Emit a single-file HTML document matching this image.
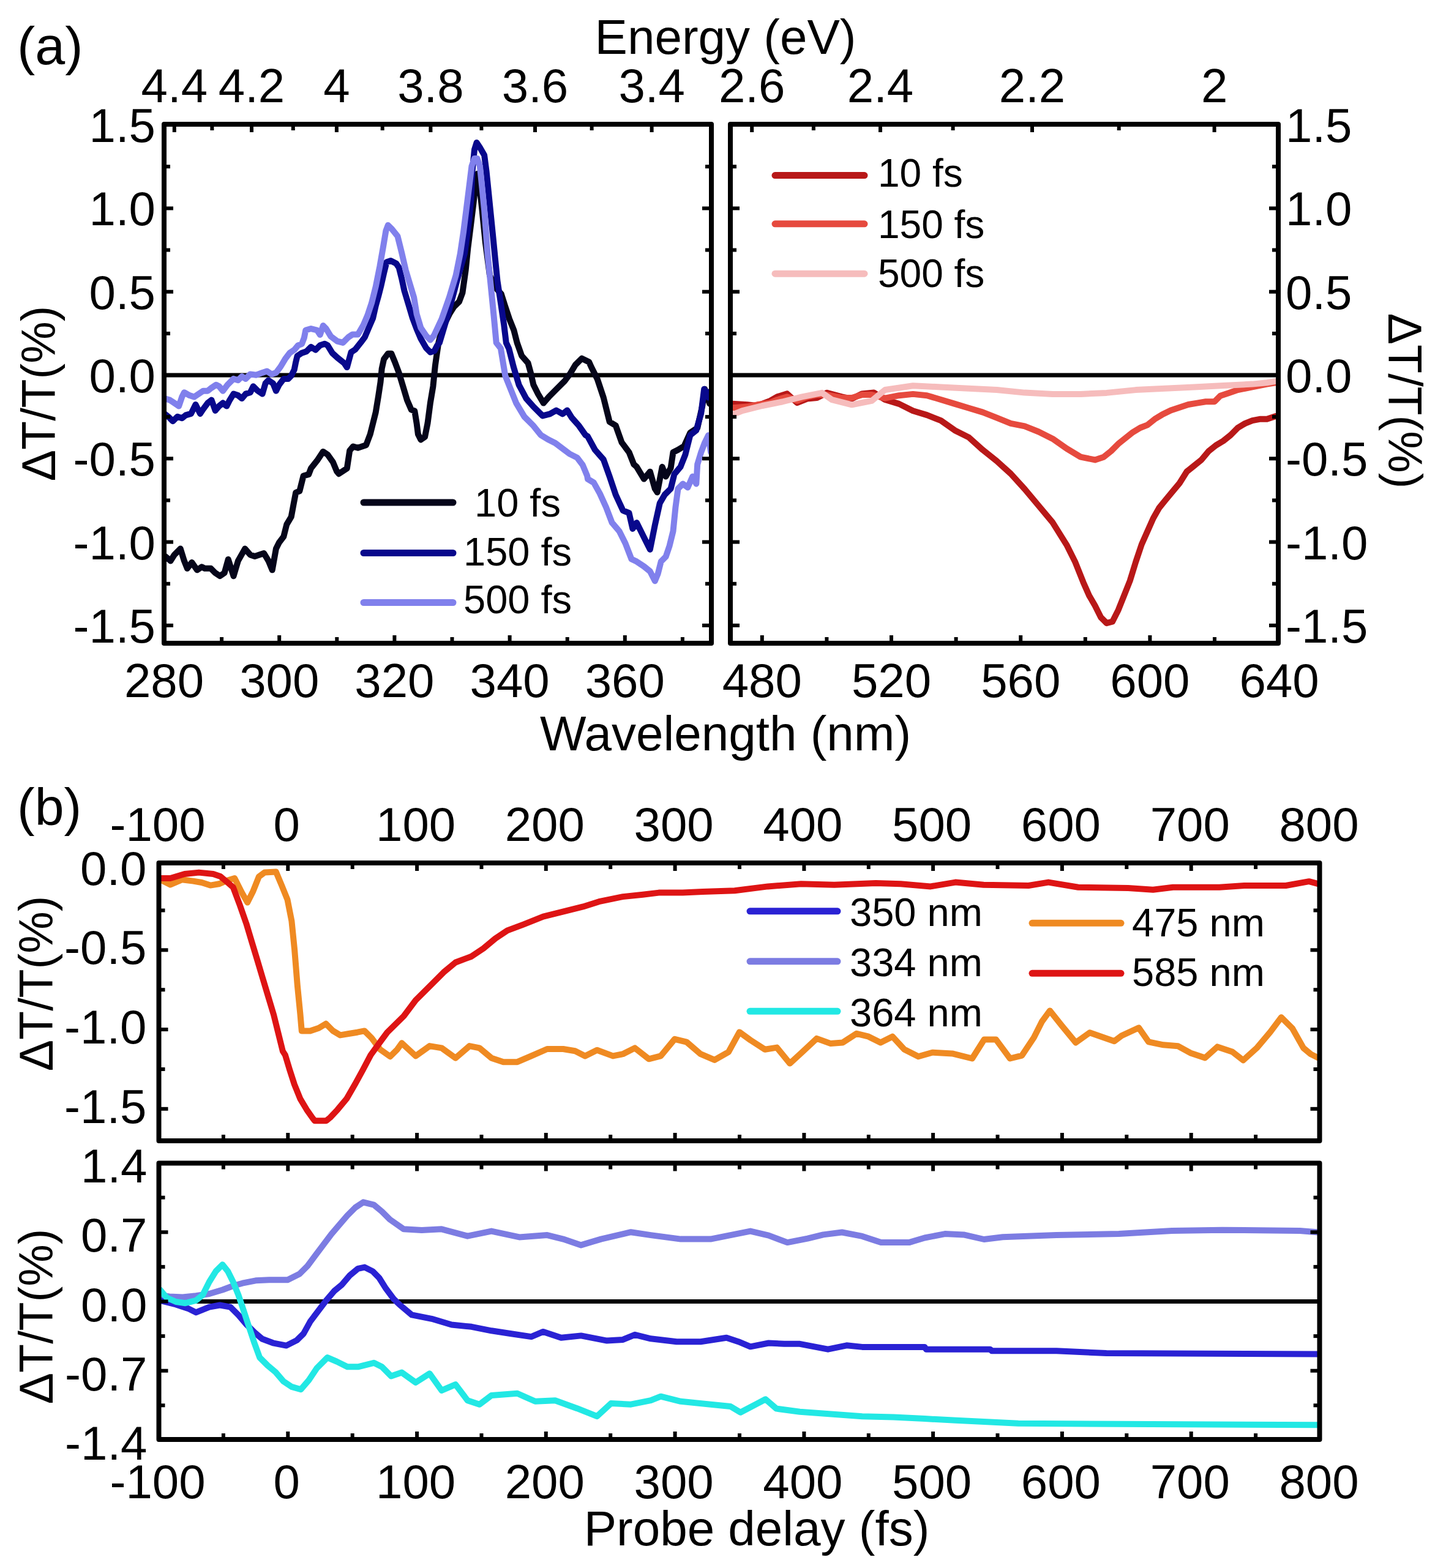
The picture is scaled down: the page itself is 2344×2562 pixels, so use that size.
<!DOCTYPE html>
<html><head><meta charset="utf-8"><title>Transient transmission spectra</title>
<style>html,body{margin:0;padding:0;background:#fff;}svg{display:block;}</style>
</head><body>
<svg width="2344" height="2562" viewBox="0 0 2344 2562" font-family='"Liberation Sans", Arial, Helvetica, sans-serif'>
<rect width="2344" height="2562" fill="#fff"/>
<defs>
<clipPath id="cAL"><rect x="268" y="203" width="894" height="848"/></clipPath>
<clipPath id="cAR"><rect x="1193" y="203" width="895" height="848"/></clipPath>
<clipPath id="cBT"><rect x="259.5" y="1410" width="1896.0" height="454"/></clipPath>
<clipPath id="cBB"><rect x="259.5" y="1900.5" width="1896.0" height="451.5"/></clipPath>
</defs>
<g stroke="#000" stroke-width="7">
<line x1="268" y1="613.0" x2="1162" y2="613.0"/>
<line x1="1193" y1="613.0" x2="2088" y2="613.0"/>
<line x1="259.5" y1="2126.5" x2="2155.5" y2="2126.5"/>
</g>
<g clip-path="url(#cAL)">
<polyline points="269.9,909.0 278.6,916.4 284.8,906.5 294.7,896.6 300.9,916.4 305.9,928.8 313.3,918.9 322.0,931.3 329.4,926.3 334.4,928.8 344.3,928.8 351.7,936.2 359.2,941.2 366.6,936.2 372.8,913.9 381.5,941.2 388.9,916.4 400.1,896.6 408.8,906.5 416.2,909.0 423.6,906.5 431.1,904.0 438.5,916.4 444.7,931.3 450.9,896.6 455.9,886.6 463.3,876.7 468.3,856.9 475.7,844.5 479.4,824.7 483.2,804.8 489.4,802.3 495.6,777.5 504.2,775.1 508.0,765.1 517.9,752.7 527.8,737.9 535.2,742.8 543.9,755.2 550.1,770.1 553.4,774.2 566.8,765.3 571.2,736.2 576.8,729.6 584.6,731.8 598.0,727.3 604.7,709.5 609.2,691.6 613.7,673.8 618.1,647.0 621.5,624.6 623.7,602.3 627.1,586.7 633.8,577.8 639.3,577.8 644.9,591.2 651.6,609.0 658.3,631.3 665.0,653.7 671.7,669.3 677.3,671.5 680.6,691.6 682.9,709.5 687.3,718.4 694.0,713.9 698.5,691.6 702.9,658.1 707.4,631.3 710.8,597.9 713.0,582.2 716.3,559.9 720.8,542.1 727.5,526.4 734.2,513.0 741.1,501.8 750.0,492.9 755.4,478.6 760.7,441.1 764.3,405.4 768.8,369.6 773.2,333.9 776.8,301.8 779.5,283.9 782.1,292.9 787.5,342.9 792.9,396.4 800.0,450.0 810.7,471.4 818.8,480.4 825.0,500.0 832.1,521.4 839.3,539.3 844.6,560.0 852.1,581.2 862.5,593.1 867.0,609.5 871.4,628.8 878.9,643.7 887.8,658.6 896.7,648.2 908.6,636.2 922.0,622.9 931.0,611.0 939.9,596.1 950.3,585.7 962.2,591.6 966.0,600.0 975.9,619.8 985.8,649.6 995.7,689.3 1005.7,695.3 1015.6,723.1 1027.5,738.9 1035.4,758.8 1040.0,762.8 1051.9,782.6 1061.8,770.7 1069.8,798.5 1073.7,804.4 1081.7,762.8 1087.6,778.6 1095.6,764.7 1099.5,738.9 1107.5,735.0 1117.4,729.0 1127.3,707.2 1139.2,699.2 1147.2,663.5 1151.2,635.7 1159.1,659.5" fill="none" stroke="#05051a" stroke-width="10" stroke-linejoin="round" stroke-linecap="round"/>
<polyline points="268.7,675.9 274.9,680.8 282.3,688.3 289.8,680.8 297.2,683.3 303.4,678.4 312.1,675.9 319.5,661.0 326.9,675.9 331.9,668.4 339.3,658.5 345.5,653.6 351.7,670.9 357.9,663.5 364.1,658.5 370.3,663.5 375.3,653.6 381.5,643.6 388.9,646.1 395.1,651.1 401.3,643.6 408.8,641.2 413.7,631.3 421.2,638.7 428.6,643.6 433.6,626.3 438.5,621.3 446.0,626.3 450.9,638.7 455.9,628.8 463.3,618.9 470.8,618.9 475.7,613.9 480.7,604.0 483.2,591.6 485.6,581.7 493.1,576.7 500.5,574.2 508.0,566.8 515.4,571.7 522.8,564.3 530.3,561.8 535.2,564.3 542.7,576.7 551.2,584.5 562.3,593.4 566.8,600.1 573.5,575.5 580.2,571.1 589.1,559.9 595.8,551.0 602.5,535.4 609.2,519.7 613.7,499.6 618.1,484.0 622.6,466.2 627.1,446.1 631.5,428.2 638.2,426.0 647.1,430.4 651.6,437.1 656.1,455.0 660.5,475.1 667.2,497.4 673.9,519.7 680.6,537.6 687.3,553.2 696.2,568.8 702.9,575.5 709.6,573.3 714.1,564.4 717.9,560.0 732.1,512.5 746.4,458.9 758.9,414.3 766.1,360.7 769.6,325.0 771.4,280.4 775.0,244.6 778.6,233.0 783.9,241.1 791.1,253.6 794.6,280.4 798.2,316.1 801.8,351.8 805.4,387.5 808.9,423.2 812.5,458.9 817.9,494.6 823.2,530.4 826.8,560.0 831.2,569.3 838.7,599.0 847.6,628.8 859.5,651.1 871.4,664.5 886.3,679.4 898.2,676.4 908.6,670.5 919.0,676.4 926.5,670.5 933.9,682.4 945.8,695.8 956.2,710.7 960.0,713.1 971.9,735.0 985.8,750.9 995.7,778.6 1005.7,808.4 1017.6,834.2 1027.5,838.2 1033.4,864.0 1040.0,854.1 1051.9,877.9 1061.8,897.7 1069.8,858.0 1077.7,822.3 1085.7,808.4 1095.6,798.5 1101.5,774.7 1111.5,762.8 1119.4,742.9 1127.3,711.2 1137.3,703.2 1145.2,675.4 1150.2,635.7 1157.1,649.6 1160.1,639.7" fill="none" stroke="#08088c" stroke-width="10" stroke-linejoin="round" stroke-linecap="round"/>
<polyline points="268.7,651.1 277.4,653.6 284.8,658.5 292.2,663.5 297.2,648.6 300.9,641.2 309.6,646.1 317.0,648.6 324.5,643.6 331.9,638.7 339.3,638.7 345.5,633.7 353.0,628.8 357.9,631.3 364.1,638.7 371.6,628.8 381.5,618.9 388.9,621.3 395.1,615.1 401.3,618.9 408.8,611.4 418.7,612.7 428.6,608.9 436.0,606.5 443.5,611.4 450.9,608.9 458.4,599.0 465.8,586.6 473.2,576.7 480.7,571.7 486.9,564.3 493.1,561.8 496.8,551.9 499.3,539.5 508.0,537.0 517.9,539.5 522.8,546.9 527.8,532.1 532.7,537.0 540.2,549.4 551.2,557.7 560.1,559.9 569.0,551.0 575.7,546.5 584.6,546.5 593.6,530.9 600.3,515.3 607.0,495.2 613.7,468.4 620.4,434.9 625.9,403.7 630.4,376.9 633.8,367.9 640.4,374.6 649.4,385.8 656.1,412.6 662.8,441.6 669.5,463.9 676.2,486.2 680.6,513.0 687.3,535.4 696.2,548.8 702.9,555.4 708.9,548.2 721.4,521.4 733.9,485.7 744.6,450.0 751.8,414.3 757.1,378.6 761.6,342.9 766.1,307.1 770.5,271.4 775.0,258.9 779.5,258.9 783.9,271.4 787.5,307.1 791.1,342.9 793.8,378.6 796.4,414.3 800.0,450.0 803.6,485.7 807.1,521.4 810.7,560.0 817.9,569.3 825.3,613.9 834.2,636.2 843.2,658.6 856.5,680.9 871.4,695.8 883.3,710.7 895.2,718.1 907.1,724.0 919.0,733.0 931.0,741.9 942.9,747.9 951.8,759.8 959.2,777.6 960.0,782.6 969.9,788.6 979.8,806.4 989.8,828.3 999.7,854.1 1011.6,868.0 1021.5,887.8 1031.5,913.6 1040.0,917.6 1051.9,925.5 1061.8,933.5 1069.8,949.3 1074.7,937.4 1079.7,917.6 1087.6,909.6 1093.6,891.8 1099.5,868.0 1103.5,828.3 1107.5,798.5 1115.4,790.6 1123.4,796.5 1131.3,778.6 1137.3,790.6 1139.2,758.8 1145.2,738.9 1151.2,723.1 1157.1,711.2 1161.1,738.9" fill="none" stroke="#8080ec" stroke-width="10" stroke-linejoin="round" stroke-linecap="round"/>
</g>
<g clip-path="url(#cAR)">
<polyline points="1196.3,659.7 1220.7,661.3 1236.9,663.0 1258.1,654.8 1269.5,648.3 1285.7,643.4 1302.0,658.1 1318.3,651.6 1334.5,650.0 1350.8,641.8 1375.2,648.3 1391.5,651.6 1407.8,643.4 1427.4,641.6 1445.6,653.0 1468.5,659.9 1491.3,671.3 1514.1,678.1 1536.9,687.2 1559.7,703.2 1582.5,714.6 1605.4,735.2 1628.2,753.4 1651.0,774.0 1673.8,799.1 1696.6,826.4 1719.5,853.8 1742.3,890.3 1756.0,917.7 1769.5,951.4 1779.0,972.9 1788.6,989.5 1798.1,1008.6 1807.6,1018.1 1817.1,1015.7 1826.7,996.7 1836.2,972.9 1845.7,949.0 1855.2,918.1 1864.8,889.5 1874.3,868.1 1883.8,846.7 1893.3,830.0 1902.9,818.1 1914.8,803.8 1926.7,789.5 1938.6,770.5 1950.5,761.0 1962.4,751.4 1974.3,737.1 1986.2,727.6 1998.1,720.5 2010.0,711.0 2021.9,699.0 2033.8,691.9 2045.7,687.1 2057.6,684.8 2069.5,684.8 2083.8,680.0" fill="none" stroke="#b81818" stroke-width="10" stroke-linejoin="round" stroke-linecap="round"/>
<polyline points="1196.3,666.2 1220.7,664.6 1236.9,661.3 1258.1,658.1 1269.5,653.2 1285.7,648.3 1302.0,654.8 1318.3,648.3 1334.5,645.1 1350.8,645.1 1375.2,650.0 1391.5,650.0 1407.8,645.1 1424.0,645.1 1445.6,650.7 1468.5,646.2 1491.3,643.9 1514.1,646.2 1536.9,653.0 1559.7,659.9 1582.5,666.7 1605.4,673.6 1628.2,682.7 1651.0,691.8 1673.8,696.4 1696.6,705.5 1719.5,716.9 1742.3,732.9 1765.1,746.6 1788.6,751.4 1802.9,746.7 1814.8,737.1 1826.7,725.2 1838.6,715.7 1850.5,706.2 1862.4,699.0 1874.3,694.3 1886.2,684.8 1898.1,677.6 1912.4,670.5 1926.7,665.7 1941.0,661.0 1955.2,658.6 1969.5,656.2 1983.8,656.2 1993.3,646.7 2007.6,641.9 2021.9,637.1 2045.7,632.4 2069.5,627.6 2083.8,625.2" fill="none" stroke="#e64a3e" stroke-width="10" stroke-linejoin="round" stroke-linecap="round"/>
<polyline points="1196.3,677.6 1212.5,671.1 1245.1,663.0 1277.6,656.5 1310.1,648.3 1342.7,641.8 1358.9,653.2 1391.5,661.3 1424.0,654.8 1445.6,637.0 1491.3,630.2 1536.9,632.5 1582.5,634.8 1628.2,637.0 1673.8,641.6 1719.5,643.9 1765.1,643.9 1807.6,641.9 1855.2,637.1 1902.9,634.8 1950.5,632.4 1998.1,630.0 2045.7,627.6 2069.5,625.2 2083.8,622.9" fill="none" stroke="#f6bcbc" stroke-width="10" stroke-linejoin="round" stroke-linecap="round"/>
</g>
<g clip-path="url(#cBT)">
<polyline points="262.0,1437.3 278.3,1445.5 297.0,1437.3 315.6,1439.6 329.6,1442.0 343.6,1446.6 357.6,1444.3 371.6,1438.5 383.2,1435.0 394.9,1458.3 404.2,1474.6 413.5,1455.9 422.8,1432.6 432.2,1425.6 450.8,1424.5 460.1,1446.6 469.5,1469.9 476.4,1504.9 481.1,1551.5 485.8,1609.8 490.4,1656.4 492.8,1684.4 506.7,1684.4 520.7,1679.7 532.4,1672.7 544.0,1684.4 555.7,1691.4 569.7,1689.0 583.7,1686.7 595.3,1684.4 607.0,1696.0 621.0,1714.7 637.3,1726.3 648.9,1714.7 656.3,1704.3 679.0,1725.4 701.8,1709.1 721.4,1712.4 744.1,1728.7 766.9,1709.1 783.2,1712.4 802.7,1728.7 822.2,1735.2 845.0,1735.2 867.8,1725.4 893.8,1714.0 919.9,1714.0 939.4,1717.3 955.7,1725.4 975.2,1715.7 1001.2,1725.4 1017.5,1722.2 1037.0,1712.4 1059.8,1730.3 1079.3,1725.4 1102.1,1697.8 1121.6,1702.6 1144.4,1722.2 1167.2,1731.9 1190.0,1718.9 1207.8,1686.4 1225.7,1699.4 1249.5,1714.8 1269.0,1711.6 1290.2,1737.6 1311.4,1718.1 1334.1,1696.9 1356.9,1705.1 1376.4,1703.5 1399.2,1688.8 1418.7,1693.7 1438.3,1703.5 1457.8,1693.7 1477.3,1714.8 1500.1,1726.2 1522.9,1719.7 1555.4,1721.4 1588.0,1729.5 1607.5,1698.6 1627.0,1698.6 1649.8,1729.5 1669.3,1724.6 1688.8,1695.3 1701.9,1669.3 1714.9,1651.4 1734.4,1675.8 1757.2,1703.5 1780.0,1687.2 1800.0,1694.3 1820.1,1701.3 1832.1,1692.3 1860.2,1679.3 1876.2,1702.3 1900.3,1707.3 1924.4,1709.3 1944.5,1720.4 1968.5,1728.4 1988.6,1710.4 2012.7,1718.4 2030.7,1732.4 2052.8,1712.4 2074.9,1686.3 2092.9,1662.2 2111.0,1680.3 2129.1,1712.4 2141.1,1722.4 2153.1,1728.4" fill="none" stroke="#ef8a22" stroke-width="10" stroke-linejoin="round" stroke-linecap="round"/>
<polyline points="262.0,1435.0 278.3,1435.0 301.6,1428.0 324.9,1425.6 348.2,1428.0 360.0,1432.0 371.9,1442.0 380.8,1449.8 392.0,1479.5 402.4,1509.3 411.3,1539.0 420.3,1568.8 429.2,1598.6 438.1,1628.3 447.1,1658.1 454.5,1687.9 461.9,1717.6 465.9,1723.9 473.1,1747.7 480.8,1771.6 490.4,1795.4 501.1,1813.3 510.7,1827.0 514.0,1831.2 533.0,1831.2 539.3,1826.0 551.2,1813.3 566.1,1795.4 579.9,1771.6 593.0,1747.7 605.5,1723.9 622.8,1700.0 632.6,1686.7 659.5,1660.3 679.0,1634.3 705.1,1608.3 724.6,1588.7 744.1,1572.5 770.2,1562.7 789.7,1549.7 809.2,1533.4 828.7,1520.4 854.8,1510.6 887.3,1497.6 926.4,1487.9 952.4,1481.4 978.4,1473.2 1017.5,1465.1 1050.0,1461.8 1076.1,1458.6 1115.1,1458.6 1147.6,1456.9 1200.0,1455.2 1254.2,1448.4 1308.5,1444.3 1362.7,1445.7 1430.5,1443.0 1471.2,1444.3 1520.0,1448.4 1560.6,1441.6 1606.7,1445.7 1680.0,1447.0 1712.5,1441.6 1761.3,1449.7 1842.7,1451.1 1883.4,1453.8 1915.9,1449.7 1991.8,1449.7 2032.5,1447.0 2100.3,1447.0 2138.2,1440.2 2154.0,1444.3" fill="none" stroke="#de1414" stroke-width="10" stroke-linejoin="round" stroke-linecap="round"/>
</g>
<g clip-path="url(#cBB)">
<polyline points="261.5,2116.2 276.7,2118.4 298.4,2119.4 320.1,2117.3 341.8,2114.0 363.5,2107.5 380.8,2101.0 396.0,2096.7 417.7,2092.3 439.4,2091.2 469.8,2091.2 489.3,2081.5 502.3,2068.5 515.3,2051.1 528.3,2033.8 541.3,2016.4 554.3,2001.2 567.4,1986.0 580.4,1973.0 593.4,1964.3 610.7,1968.7 623.8,1979.5 636.8,1992.5 659.5,2008.3 688.8,2010.0 721.4,2008.3 763.7,2019.7 802.7,2011.6 848.3,2021.4 893.8,2018.1 919.9,2024.6 949.1,2034.4 981.7,2024.6 1030.5,2013.2 1063.0,2018.1 1111.9,2024.6 1160.7,2024.6 1193.2,2018.1 1225.7,2011.6 1255.5,2018.6 1286.1,2030.1 1319.2,2023.7 1344.7,2017.4 1375.3,2013.5 1408.4,2019.9 1439.0,2030.1 1484.9,2030.1 1510.4,2022.5 1543.5,2016.1 1574.1,2017.4 1607.3,2025.0 1637.9,2021.2 1725.7,2018.1 1827.6,2016.1 1914.3,2011.0 1995.9,2009.7 2123.3,2011.0 2153.9,2013.5" fill="none" stroke="#7c7ce2" stroke-width="10" stroke-linejoin="round" stroke-linecap="round"/>
<polyline points="261.5,2124.9 287.5,2131.4 307.1,2137.9 320.1,2144.4 341.8,2135.7 359.1,2132.5 376.5,2135.7 389.5,2148.7 402.5,2163.9 415.5,2176.9 428.5,2187.8 445.9,2194.3 467.6,2198.6 484.9,2189.9 495.8,2179.1 506.6,2159.6 519.6,2142.2 532.7,2124.9 545.7,2109.7 558.7,2098.8 571.7,2083.6 584.7,2072.8 595.6,2070.6 608.6,2077.1 619.4,2088.0 630.3,2105.3 643.3,2122.7 653.0,2132.0 672.5,2148.3 705.1,2154.8 737.6,2164.5 770.2,2167.8 802.7,2174.3 835.2,2179.2 867.8,2184.1 887.3,2175.9 916.6,2185.7 949.1,2182.4 991.4,2190.6 1017.5,2188.9 1037.0,2180.8 1063.0,2187.3 1105.3,2192.2 1144.4,2192.2 1186.7,2185.7 1206.2,2192.2 1225.7,2200.3 1255.5,2194.5 1281.0,2195.8 1306.5,2195.8 1352.4,2204.7 1382.9,2198.3 1408.4,2200.9 1510.4,2200.9 1512.9,2204.7 1617.5,2204.7 1620.0,2207.3 1725.7,2207.3 1807.3,2211.1 2153.9,2212.4" fill="none" stroke="#2a22d4" stroke-width="10" stroke-linejoin="round" stroke-linecap="round"/>
<polyline points="261.5,2107.5 272.4,2120.5 287.5,2127.0 302.7,2129.2 320.1,2124.9 330.9,2116.2 341.8,2094.5 352.6,2077.1 363.5,2066.3 372.1,2077.1 380.8,2094.5 389.5,2116.2 398.2,2142.2 406.8,2168.2 415.5,2194.3 424.2,2218.1 437.2,2231.1 450.2,2242.0 463.2,2257.2 476.3,2265.9 491.4,2270.2 504.5,2255.0 517.5,2235.5 534.8,2218.1 550.0,2224.6 567.4,2233.3 584.7,2233.3 610.7,2226.8 623.8,2233.3 638.9,2248.5 656.3,2242.6 679.0,2258.9 701.8,2244.3 721.4,2271.9 744.1,2262.2 763.7,2288.2 783.2,2294.7 802.7,2280.1 845.0,2276.8 874.3,2289.8 906.8,2288.2 942.6,2301.2 975.2,2314.2 998.0,2293.1 1030.5,2294.7 1063.0,2288.2 1079.3,2281.7 1111.9,2289.8 1160.7,2294.7 1193.2,2298.0 1209.5,2307.7 1250.4,2286.3 1268.2,2301.6 1306.5,2306.7 1357.5,2310.5 1408.4,2314.3 1459.4,2315.6 1510.4,2318.1 1561.4,2320.7 1612.4,2323.2 1663.3,2325.8 2153.9,2328.3" fill="none" stroke="#22e8e4" stroke-width="10" stroke-linejoin="round" stroke-linecap="round"/>
</g>
<g stroke="#000" stroke-width="8" fill="none">
<rect x="268" y="203" width="894" height="848" fill="none" stroke="#000" stroke-width="8" stroke-linejoin="round"/>
<rect x="1193" y="203" width="895" height="848" fill="none" stroke="#000" stroke-width="8" stroke-linejoin="round"/>
<rect x="259.5" y="1410" width="1896.0" height="454" fill="none" stroke="#000" stroke-width="8" stroke-linejoin="round"/>
<rect x="259.5" y="1900.5" width="1896.0" height="451.5" fill="none" stroke="#000" stroke-width="8" stroke-linejoin="round"/>
</g>
<g stroke="#000" stroke-width="6" stroke-linecap="butt">
<line x1="284.8" y1="203" x2="284.8" y2="216"/>
<line x1="411.0" y1="203" x2="411.0" y2="216"/>
<line x1="549.9" y1="203" x2="549.9" y2="216"/>
<line x1="703.4" y1="203" x2="703.4" y2="216"/>
<line x1="874.0" y1="203" x2="874.0" y2="216"/>
<line x1="1064.6" y1="203" x2="1064.6" y2="216"/>
<line x1="346.4" y1="203" x2="346.4" y2="213"/>
<line x1="478.8" y1="203" x2="478.8" y2="213"/>
<line x1="624.7" y1="203" x2="624.7" y2="213"/>
<line x1="786.4" y1="203" x2="786.4" y2="213"/>
<line x1="966.6" y1="203" x2="966.6" y2="213"/>
<line x1="456.2" y1="1051" x2="456.2" y2="1038"/>
<line x1="644.4" y1="1051" x2="644.4" y2="1038"/>
<line x1="832.6" y1="1051" x2="832.6" y2="1038"/>
<line x1="1020.8" y1="1051" x2="1020.8" y2="1038"/>
<line x1="362.1" y1="1051" x2="362.1" y2="1041"/>
<line x1="550.3" y1="1051" x2="550.3" y2="1041"/>
<line x1="738.5" y1="1051" x2="738.5" y2="1041"/>
<line x1="926.7" y1="1051" x2="926.7" y2="1041"/>
<line x1="1114.9" y1="1051" x2="1114.9" y2="1041"/>
<line x1="268" y1="340.4" x2="283" y2="340.4"/>
<line x1="1162" y1="340.4" x2="1147" y2="340.4"/>
<line x1="268" y1="476.7" x2="283" y2="476.7"/>
<line x1="1162" y1="476.7" x2="1147" y2="476.7"/>
<line x1="268" y1="613.0" x2="283" y2="613.0"/>
<line x1="1162" y1="613.0" x2="1147" y2="613.0"/>
<line x1="268" y1="749.3" x2="283" y2="749.3"/>
<line x1="1162" y1="749.3" x2="1147" y2="749.3"/>
<line x1="268" y1="885.6" x2="283" y2="885.6"/>
<line x1="1162" y1="885.6" x2="1147" y2="885.6"/>
<line x1="268" y1="1021.9" x2="283" y2="1021.9"/>
<line x1="1162" y1="1021.9" x2="1147" y2="1021.9"/>
<line x1="268" y1="272.2" x2="278" y2="272.2"/>
<line x1="1162" y1="272.2" x2="1152" y2="272.2"/>
<line x1="268" y1="408.5" x2="278" y2="408.5"/>
<line x1="1162" y1="408.5" x2="1152" y2="408.5"/>
<line x1="268" y1="544.9" x2="278" y2="544.9"/>
<line x1="1162" y1="544.9" x2="1152" y2="544.9"/>
<line x1="268" y1="681.1" x2="278" y2="681.1"/>
<line x1="1162" y1="681.1" x2="1152" y2="681.1"/>
<line x1="268" y1="817.5" x2="278" y2="817.5"/>
<line x1="1162" y1="817.5" x2="1152" y2="817.5"/>
<line x1="268" y1="953.8" x2="278" y2="953.8"/>
<line x1="1162" y1="953.8" x2="1152" y2="953.8"/>
<line x1="1228.2" y1="203" x2="1228.2" y2="216"/>
<line x1="1438.0" y1="203" x2="1438.0" y2="216"/>
<line x1="1686.0" y1="203" x2="1686.0" y2="216"/>
<line x1="1983.6" y1="203" x2="1983.6" y2="216"/>
<line x1="1328.9" y1="203" x2="1328.9" y2="213"/>
<line x1="1556.6" y1="203" x2="1556.6" y2="213"/>
<line x1="1827.7" y1="203" x2="1827.7" y2="213"/>
<line x1="1244.8" y1="1051" x2="1244.8" y2="1038"/>
<line x1="1456.0" y1="1051" x2="1456.0" y2="1038"/>
<line x1="1667.2" y1="1051" x2="1667.2" y2="1038"/>
<line x1="1878.4" y1="1051" x2="1878.4" y2="1038"/>
<line x1="1350.4" y1="1051" x2="1350.4" y2="1041"/>
<line x1="1561.6" y1="1051" x2="1561.6" y2="1041"/>
<line x1="1772.8" y1="1051" x2="1772.8" y2="1041"/>
<line x1="1984.0" y1="1051" x2="1984.0" y2="1041"/>
<line x1="1193" y1="340.4" x2="1208" y2="340.4"/>
<line x1="2088" y1="340.4" x2="2073" y2="340.4"/>
<line x1="1193" y1="476.7" x2="1208" y2="476.7"/>
<line x1="2088" y1="476.7" x2="2073" y2="476.7"/>
<line x1="1193" y1="613.0" x2="1208" y2="613.0"/>
<line x1="2088" y1="613.0" x2="2073" y2="613.0"/>
<line x1="1193" y1="749.3" x2="1208" y2="749.3"/>
<line x1="2088" y1="749.3" x2="2073" y2="749.3"/>
<line x1="1193" y1="885.6" x2="1208" y2="885.6"/>
<line x1="2088" y1="885.6" x2="2073" y2="885.6"/>
<line x1="1193" y1="1021.9" x2="1208" y2="1021.9"/>
<line x1="2088" y1="1021.9" x2="2073" y2="1021.9"/>
<line x1="1193" y1="272.2" x2="1203" y2="272.2"/>
<line x1="2088" y1="272.2" x2="2078" y2="272.2"/>
<line x1="1193" y1="408.5" x2="1203" y2="408.5"/>
<line x1="2088" y1="408.5" x2="2078" y2="408.5"/>
<line x1="1193" y1="544.9" x2="1203" y2="544.9"/>
<line x1="2088" y1="544.9" x2="2078" y2="544.9"/>
<line x1="1193" y1="681.1" x2="1203" y2="681.1"/>
<line x1="2088" y1="681.1" x2="2078" y2="681.1"/>
<line x1="1193" y1="817.5" x2="1203" y2="817.5"/>
<line x1="2088" y1="817.5" x2="2078" y2="817.5"/>
<line x1="1193" y1="953.8" x2="1203" y2="953.8"/>
<line x1="2088" y1="953.8" x2="2078" y2="953.8"/>
<line x1="470.3" y1="1410" x2="470.3" y2="1423"/>
<line x1="470.3" y1="1864" x2="470.3" y2="1851"/>
<line x1="681.1" y1="1410" x2="681.1" y2="1423"/>
<line x1="681.1" y1="1864" x2="681.1" y2="1851"/>
<line x1="891.8" y1="1410" x2="891.8" y2="1423"/>
<line x1="891.8" y1="1864" x2="891.8" y2="1851"/>
<line x1="1102.6" y1="1410" x2="1102.6" y2="1423"/>
<line x1="1102.6" y1="1864" x2="1102.6" y2="1851"/>
<line x1="1313.4" y1="1410" x2="1313.4" y2="1423"/>
<line x1="1313.4" y1="1864" x2="1313.4" y2="1851"/>
<line x1="1524.1" y1="1410" x2="1524.1" y2="1423"/>
<line x1="1524.1" y1="1864" x2="1524.1" y2="1851"/>
<line x1="1734.9" y1="1410" x2="1734.9" y2="1423"/>
<line x1="1734.9" y1="1864" x2="1734.9" y2="1851"/>
<line x1="1945.7" y1="1410" x2="1945.7" y2="1423"/>
<line x1="1945.7" y1="1864" x2="1945.7" y2="1851"/>
<line x1="364.9" y1="1410" x2="364.9" y2="1420"/>
<line x1="364.9" y1="1864" x2="364.9" y2="1854"/>
<line x1="575.7" y1="1410" x2="575.7" y2="1420"/>
<line x1="575.7" y1="1864" x2="575.7" y2="1854"/>
<line x1="786.5" y1="1410" x2="786.5" y2="1420"/>
<line x1="786.5" y1="1864" x2="786.5" y2="1854"/>
<line x1="997.2" y1="1410" x2="997.2" y2="1420"/>
<line x1="997.2" y1="1864" x2="997.2" y2="1854"/>
<line x1="1208.0" y1="1410" x2="1208.0" y2="1420"/>
<line x1="1208.0" y1="1864" x2="1208.0" y2="1854"/>
<line x1="1418.8" y1="1410" x2="1418.8" y2="1420"/>
<line x1="1418.8" y1="1864" x2="1418.8" y2="1854"/>
<line x1="1629.5" y1="1410" x2="1629.5" y2="1420"/>
<line x1="1629.5" y1="1864" x2="1629.5" y2="1854"/>
<line x1="1840.3" y1="1410" x2="1840.3" y2="1420"/>
<line x1="1840.3" y1="1864" x2="1840.3" y2="1854"/>
<line x1="2051.1" y1="1410" x2="2051.1" y2="1420"/>
<line x1="2051.1" y1="1864" x2="2051.1" y2="1854"/>
<line x1="470.3" y1="1900.5" x2="470.3" y2="1913.5"/>
<line x1="470.3" y1="2352" x2="470.3" y2="2339"/>
<line x1="681.1" y1="1900.5" x2="681.1" y2="1913.5"/>
<line x1="681.1" y1="2352" x2="681.1" y2="2339"/>
<line x1="891.8" y1="1900.5" x2="891.8" y2="1913.5"/>
<line x1="891.8" y1="2352" x2="891.8" y2="2339"/>
<line x1="1102.6" y1="1900.5" x2="1102.6" y2="1913.5"/>
<line x1="1102.6" y1="2352" x2="1102.6" y2="2339"/>
<line x1="1313.4" y1="1900.5" x2="1313.4" y2="1913.5"/>
<line x1="1313.4" y1="2352" x2="1313.4" y2="2339"/>
<line x1="1524.1" y1="1900.5" x2="1524.1" y2="1913.5"/>
<line x1="1524.1" y1="2352" x2="1524.1" y2="2339"/>
<line x1="1734.9" y1="1900.5" x2="1734.9" y2="1913.5"/>
<line x1="1734.9" y1="2352" x2="1734.9" y2="2339"/>
<line x1="1945.7" y1="1900.5" x2="1945.7" y2="1913.5"/>
<line x1="1945.7" y1="2352" x2="1945.7" y2="2339"/>
<line x1="364.9" y1="1900.5" x2="364.9" y2="1910.5"/>
<line x1="364.9" y1="2352" x2="364.9" y2="2342"/>
<line x1="575.7" y1="1900.5" x2="575.7" y2="1910.5"/>
<line x1="575.7" y1="2352" x2="575.7" y2="2342"/>
<line x1="786.5" y1="1900.5" x2="786.5" y2="1910.5"/>
<line x1="786.5" y1="2352" x2="786.5" y2="2342"/>
<line x1="997.2" y1="1900.5" x2="997.2" y2="1910.5"/>
<line x1="997.2" y1="2352" x2="997.2" y2="2342"/>
<line x1="1208.0" y1="1900.5" x2="1208.0" y2="1910.5"/>
<line x1="1208.0" y1="2352" x2="1208.0" y2="2342"/>
<line x1="1418.8" y1="1900.5" x2="1418.8" y2="1910.5"/>
<line x1="1418.8" y1="2352" x2="1418.8" y2="2342"/>
<line x1="1629.5" y1="1900.5" x2="1629.5" y2="1910.5"/>
<line x1="1629.5" y1="2352" x2="1629.5" y2="2342"/>
<line x1="1840.3" y1="1900.5" x2="1840.3" y2="1910.5"/>
<line x1="1840.3" y1="2352" x2="1840.3" y2="2342"/>
<line x1="2051.1" y1="1900.5" x2="2051.1" y2="1910.5"/>
<line x1="2051.1" y1="2352" x2="2051.1" y2="2342"/>
<line x1="259.5" y1="1552.3" x2="274.5" y2="1552.3"/>
<line x1="2155.5" y1="1552.3" x2="2140.5" y2="1552.3"/>
<line x1="259.5" y1="1682.1" x2="274.5" y2="1682.1"/>
<line x1="2155.5" y1="1682.1" x2="2140.5" y2="1682.1"/>
<line x1="259.5" y1="1811.8" x2="274.5" y2="1811.8"/>
<line x1="2155.5" y1="1811.8" x2="2140.5" y2="1811.8"/>
<line x1="259.5" y1="1487.5" x2="269.5" y2="1487.5"/>
<line x1="2155.5" y1="1487.5" x2="2145.5" y2="1487.5"/>
<line x1="259.5" y1="1617.2" x2="269.5" y2="1617.2"/>
<line x1="2155.5" y1="1617.2" x2="2145.5" y2="1617.2"/>
<line x1="259.5" y1="1747.0" x2="269.5" y2="1747.0"/>
<line x1="2155.5" y1="1747.0" x2="2145.5" y2="1747.0"/>
<line x1="259.5" y1="2013.3" x2="274.5" y2="2013.3"/>
<line x1="2155.5" y1="2013.3" x2="2140.5" y2="2013.3"/>
<line x1="259.5" y1="2126.5" x2="274.5" y2="2126.5"/>
<line x1="2155.5" y1="2126.5" x2="2140.5" y2="2126.5"/>
<line x1="259.5" y1="2239.7" x2="274.5" y2="2239.7"/>
<line x1="2155.5" y1="2239.7" x2="2140.5" y2="2239.7"/>
<line x1="259.5" y1="1956.7" x2="269.5" y2="1956.7"/>
<line x1="2155.5" y1="1956.7" x2="2145.5" y2="1956.7"/>
<line x1="259.5" y1="2069.9" x2="269.5" y2="2069.9"/>
<line x1="2155.5" y1="2069.9" x2="2145.5" y2="2069.9"/>
<line x1="259.5" y1="2183.1" x2="269.5" y2="2183.1"/>
<line x1="2155.5" y1="2183.1" x2="2145.5" y2="2183.1"/>
<line x1="259.5" y1="2296.3" x2="269.5" y2="2296.3"/>
<line x1="2155.5" y1="2296.3" x2="2145.5" y2="2296.3"/>
</g>
<g fill="#000">
<text x="28.0" y="105.0" font-size="88" text-anchor="start">(a)</text>
<text x="28.0" y="1347.5" font-size="86" text-anchor="start">(b)</text>
<text x="284.8" y="167.0" font-size="78" text-anchor="middle">4.4</text>
<text x="411.0" y="167.0" font-size="78" text-anchor="middle">4.2</text>
<text x="549.9" y="167.0" font-size="78" text-anchor="middle">4</text>
<text x="703.4" y="167.0" font-size="78" text-anchor="middle">3.8</text>
<text x="874.0" y="167.0" font-size="78" text-anchor="middle">3.6</text>
<text x="1064.6" y="167.0" font-size="78" text-anchor="middle">3.4</text>
<text x="1228.2" y="167.0" font-size="78" text-anchor="middle">2.6</text>
<text x="1438.0" y="167.0" font-size="78" text-anchor="middle">2.4</text>
<text x="1686.0" y="167.0" font-size="78" text-anchor="middle">2.2</text>
<text x="1983.6" y="167.0" font-size="78" text-anchor="middle">2</text>
<text x="1185.0" y="88.0" font-size="80" text-anchor="middle">Energy (eV)</text>
<text x="254.0" y="232.1" font-size="78" text-anchor="end">1.5</text>
<text x="2100.0" y="232.1" font-size="78" text-anchor="start">1.5</text>
<text x="254.0" y="368.4" font-size="78" text-anchor="end">1.0</text>
<text x="2100.0" y="368.4" font-size="78" text-anchor="start">1.0</text>
<text x="254.0" y="504.7" font-size="78" text-anchor="end">0.5</text>
<text x="2100.0" y="504.7" font-size="78" text-anchor="start">0.5</text>
<text x="254.0" y="641.0" font-size="78" text-anchor="end">0.0</text>
<text x="2100.0" y="641.0" font-size="78" text-anchor="start">0.0</text>
<text x="254.0" y="777.3" font-size="78" text-anchor="end">-0.5</text>
<text x="2100.0" y="777.3" font-size="78" text-anchor="start">-0.5</text>
<text x="254.0" y="913.6" font-size="78" text-anchor="end">-1.0</text>
<text x="2100.0" y="913.6" font-size="78" text-anchor="start">-1.0</text>
<text x="254.0" y="1049.9" font-size="78" text-anchor="end">-1.5</text>
<text x="2100.0" y="1049.9" font-size="78" text-anchor="start">-1.5</text>
<text x="268.0" y="1139.0" font-size="78" text-anchor="middle">280</text>
<text x="456.2" y="1139.0" font-size="78" text-anchor="middle">300</text>
<text x="644.4" y="1139.0" font-size="78" text-anchor="middle">320</text>
<text x="832.6" y="1139.0" font-size="78" text-anchor="middle">340</text>
<text x="1020.8" y="1139.0" font-size="78" text-anchor="middle">360</text>
<text x="1244.8" y="1139.0" font-size="78" text-anchor="middle">480</text>
<text x="1456.0" y="1139.0" font-size="78" text-anchor="middle">520</text>
<text x="1667.2" y="1139.0" font-size="78" text-anchor="middle">560</text>
<text x="1878.4" y="1139.0" font-size="78" text-anchor="middle">600</text>
<text x="2089.6" y="1139.0" font-size="78" text-anchor="middle">640</text>
<text x="1185.0" y="1225.5" font-size="80" text-anchor="middle">Wavelength (nm)</text>
<text transform="translate(90,643) rotate(-90)" font-size="77" text-anchor="middle">ΔT/T(%)</text>
<text transform="translate(2268,655) rotate(90)" font-size="77" text-anchor="middle">ΔT/T(%)</text>
<text x="257.5" y="1374.0" font-size="78" text-anchor="middle">-100</text>
<text x="468.3" y="1374.0" font-size="78" text-anchor="middle">0</text>
<text x="679.1" y="1374.0" font-size="78" text-anchor="middle">100</text>
<text x="889.8" y="1374.0" font-size="78" text-anchor="middle">200</text>
<text x="1100.6" y="1374.0" font-size="78" text-anchor="middle">300</text>
<text x="1311.4" y="1374.0" font-size="78" text-anchor="middle">400</text>
<text x="1522.1" y="1374.0" font-size="78" text-anchor="middle">500</text>
<text x="1732.9" y="1374.0" font-size="78" text-anchor="middle">600</text>
<text x="1943.7" y="1374.0" font-size="78" text-anchor="middle">700</text>
<text x="2154.5" y="1374.0" font-size="78" text-anchor="middle">800</text>
<text x="257.5" y="2447.5" font-size="78" text-anchor="middle">-100</text>
<text x="468.3" y="2447.5" font-size="78" text-anchor="middle">0</text>
<text x="679.1" y="2447.5" font-size="78" text-anchor="middle">100</text>
<text x="889.8" y="2447.5" font-size="78" text-anchor="middle">200</text>
<text x="1100.6" y="2447.5" font-size="78" text-anchor="middle">300</text>
<text x="1311.4" y="2447.5" font-size="78" text-anchor="middle">400</text>
<text x="1522.1" y="2447.5" font-size="78" text-anchor="middle">500</text>
<text x="1732.9" y="2447.5" font-size="78" text-anchor="middle">600</text>
<text x="1943.7" y="2447.5" font-size="78" text-anchor="middle">700</text>
<text x="2154.5" y="2447.5" font-size="78" text-anchor="middle">800</text>
<text x="1236.0" y="2525.0" font-size="80" text-anchor="middle">Probe delay (fs)</text>
<text x="239.5" y="1445.6" font-size="78" text-anchor="end">0.0</text>
<text x="239.5" y="1575.3" font-size="78" text-anchor="end">-0.5</text>
<text x="239.5" y="1705.1" font-size="78" text-anchor="end">-1.0</text>
<text x="239.5" y="1834.8" font-size="78" text-anchor="end">-1.5</text>
<text x="240.5" y="1932.1" font-size="78" text-anchor="end">1.4</text>
<text x="240.5" y="2045.3" font-size="78" text-anchor="end">0.7</text>
<text x="240.5" y="2158.5" font-size="78" text-anchor="end">0.0</text>
<text x="240.5" y="2271.7" font-size="78" text-anchor="end">-0.7</text>
<text x="240.5" y="2384.9" font-size="78" text-anchor="end">-1.4</text>
<text transform="translate(85.5,1607) rotate(-90)" font-size="77" text-anchor="middle">ΔT/T(%)</text>
<text transform="translate(86,2151) rotate(-90)" font-size="77" text-anchor="middle">ΔT/T(%)</text>
</g>
<line x1="594" y1="821" x2="740" y2="821" stroke="#05051a" stroke-width="11" stroke-linecap="round"/>
<text x="775" y="844" font-size="65">10 fs</text>
<line x1="594" y1="903.5" x2="740" y2="903.5" stroke="#08088c" stroke-width="11" stroke-linecap="round"/>
<text x="757" y="924" font-size="65">150 fs</text>
<line x1="594" y1="984.5" x2="740" y2="984.5" stroke="#8080ec" stroke-width="11" stroke-linecap="round"/>
<text x="757" y="1002" font-size="65">500 fs</text>
<line x1="1266" y1="286.6" x2="1412" y2="286.6" stroke="#b81818" stroke-width="11" stroke-linecap="round"/>
<text x="1434" y="305" font-size="64">10 fs</text>
<line x1="1266" y1="365.8" x2="1412" y2="365.8" stroke="#e64a3e" stroke-width="11" stroke-linecap="round"/>
<text x="1434" y="388.6" font-size="64">150 fs</text>
<line x1="1266" y1="447.2" x2="1412" y2="447.2" stroke="#f6bcbc" stroke-width="11" stroke-linecap="round"/>
<text x="1434" y="468.9" font-size="64">500 fs</text>
<line x1="1225" y1="1488.8" x2="1368" y2="1488.8" stroke="#2a22d4" stroke-width="11" stroke-linecap="round"/>
<text x="1388" y="1513" font-size="65">350 nm</text>
<line x1="1225" y1="1570.8" x2="1368" y2="1570.8" stroke="#7c7ce2" stroke-width="11" stroke-linecap="round"/>
<text x="1388" y="1595" font-size="65">334 nm</text>
<line x1="1225" y1="1652.3" x2="1368" y2="1652.3" stroke="#22e8e4" stroke-width="11" stroke-linecap="round"/>
<text x="1388" y="1676.7" font-size="65">364 nm</text>
<line x1="1686" y1="1508.3" x2="1831" y2="1508.3" stroke="#ef8a22" stroke-width="11" stroke-linecap="round"/>
<text x="1849" y="1530.3" font-size="65">475 nm</text>
<line x1="1686" y1="1590.3" x2="1831" y2="1590.3" stroke="#de1414" stroke-width="11" stroke-linecap="round"/>
<text x="1849" y="1610.8" font-size="65">585 nm</text>
</svg>
</body></html>
